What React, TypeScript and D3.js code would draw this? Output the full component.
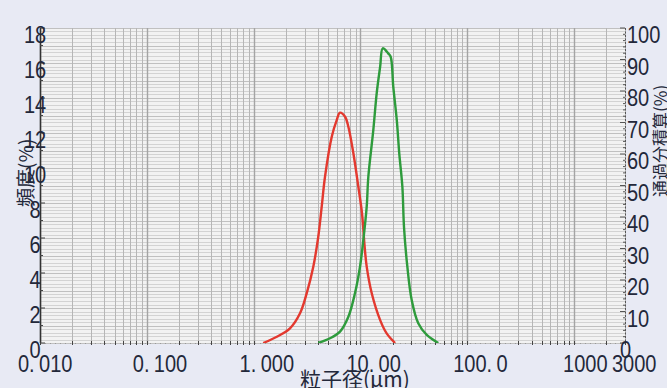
import React from "react";
import * as d3 from "d3";

const W = 667;
const H = 388;

// particle size (µm) and frequency (%) – red sample
const redSize = [1.23, 1.65, 2.19, 2.72, 3.14, 3.62, 4.03, 4.34, 4.66, 5.39, 6.0, 6.44, 7.18, 7.71, 8.59, 9.56, 10.35, 10.92, 11.45, 12.76, 15.3, 17.6, 21.1];
const redFreq = [0, 0.36, 0.84, 1.7, 2.84, 4.36, 6.07, 7.79, 9.5, 11.79, 12.74, 13.16, 12.93, 12.36, 10.84, 8.93, 7.4, 5.6, 4.36, 2.84, 1.31, 0.55, 0];

// green sample
const greenSize = [4.03, 5.19, 6.44, 7.71, 8.89, 9.91, 10.65, 11.45, 11.86, 13.2, 14.2, 15.3, 16.2, 18.2, 19.2, 20.3, 21.9, 23.1, 24.7, 25.6, 27.5, 30.2, 34.8, 41.8, 53.6];
const greenFreq = [0, 0.27, 0.65, 1.5, 2.84, 4.36, 5.89, 7.79, 9.5, 12.17, 14.27, 15.79, 16.84, 16.55, 16.36, 14.65, 12.74, 10.84, 8.93, 6.6, 4.36, 2.46, 1.13, 0.46, 0];

const xTickValues = [0.01, 0.1, 1, 10, 100, 1000, 3000];
const xTickLabels = ["0.010", "0.100", "1.000", "10.00", "100.0", "1000", "3000"];
const yLeftTicks = [0, 2, 4, 6, 8, 10, 12, 14, 16, 18];
const yRightTicks = [0, 10, 20, 30, 40, 50, 60, 70, 80, 90, 100];

const xTitle = "粒子径(μm)";
const yLeftTitle = "頻度(%)";
const yRightTitle = "通過分積算(%)";

const NUM_FONT = "'Liberation Sans', Arial, sans-serif";
const CJK_FONT = "'Noto Sans CJK JP', 'Noto Sans', sans-serif";
const TXT = "#23283a";
const SX = 0.87;

export default function App() {
  const x = d3.scaleLog().domain([0.01, 3000]).range([40, 625]);
  const y = d3.scaleLinear().domain([0, 18]).range([343, 28]);
  const y2 = d3.scaleLinear().domain([0, 100]).range([343, 28]);

  const [x0, x1] = x.range();
  const [yb, yt] = y.range();

  const vGrid: { v: number; major: boolean }[] = [];
  for (let e = -2; e <= 3; e++) {
    for (let m = 1; m <= 9; m++) {
      const v = m * Math.pow(10, e);
      if (v >= 0.01 && v <= 3000) vGrid.push({ v, major: m === 1 });
    }
  }
  const hGrid = d3.range(0, 18.0001, 0.2);

  const line = d3
    .line<[number, number]>()
    .x((d) => x(d[0]))
    .y((d) => y(d[1]))
    .curve(d3.curveCatmullRom.alpha(0.5));

  const redPts = redSize.map((s, i) => [s, redFreq[i]] as [number, number]);
  const greenPts = greenSize.map((s, i) => [s, greenFreq[i]] as [number, number]);

  return (
    <svg
      width={W}
      height={H}
      style={{ position: "absolute", left: 0, top: 0, background: "#e8eaf4" }}
    >
      <rect x={0} y={0} width={W} height={H} fill="#e8eaf4" />
      <defs>
        <clipPath id="plot">
          <rect x={x0} y={yt} width={x1 - x0} height={yb - yt} />
        </clipPath>
      </defs>
      <rect x={x0} y={yt} width={x1 - x0} height={yb - yt} fill="#f2f2f2" />
      {hGrid.map((v, i) => (
        <line
          key={"h" + i}
          x1={x0}
          x2={x1}
          y1={Math.round(y(v)) + 0.5}
          y2={Math.round(y(v)) + 0.5}
          stroke={i % 5 === 0 ? "#c0c0c0" : "#d3d3d3"}
          strokeWidth={1}
        />
      ))}
      {vGrid.map((g, i) => (
        <line
          key={"v" + i}
          x1={Math.round(x(g.v)) + 0.5}
          x2={Math.round(x(g.v)) + 0.5}
          y1={yt}
          y2={yb}
          stroke={g.major ? "#a4a4a4" : "#b6b6b6"}
          strokeWidth={g.major ? 1.4 : 1}
        />
      ))}

      {/* bottom dotted axis */}
      <line x1={x0} x2={x1} y1={yb + 0.5} y2={yb + 0.5} stroke="#9a9a9a" strokeWidth={1} strokeDasharray="1,4" />
      {vGrid.map((g, i) => (
        <line
          key={"bt" + i}
          x1={Math.round(x(g.v)) + 0.5}
          x2={Math.round(x(g.v)) + 0.5}
          y1={yb - 2}
          y2={yb + 2}
          stroke="#444"
          strokeWidth={1}
        />
      ))}

      {/* left axis */}
      <line x1={x0 + 0.5} x2={x0 + 0.5} y1={yt} y2={yb} stroke="#333" strokeWidth={1.5} />
      {d3.range(0, 18.0001, 1).map((v, i) => (
        <line key={"lt" + i} x1={x0} x2={x0 + (v % 2 === 0 ? 5 : 3)} y1={y(v)} y2={y(v)} stroke="#444" strokeWidth={1} />
      ))}
      {/* right axis */}
      <line x1={x1 + 0.5} x2={x1 + 0.5} y1={yt} y2={yb} stroke="#555" strokeWidth={1} strokeDasharray="2,1.5" />
      {d3.range(0, 100.001, 2).map((v, i) => (
        <line key={"rt" + i} x1={x1 - (v % 10 === 0 ? 5 : 2)} x2={x1} y1={y2(v)} y2={y2(v)} stroke="#555" strokeWidth={1} />
      ))}

      {/* curves */}
      <g clipPath="url(#plot)">
        <path d={line(redPts) || ""} fill="none" stroke="#e3392f" strokeWidth={2.4} strokeLinejoin="round" />
        <path d={line(greenPts) || ""} fill="none" stroke="#2e9b3c" strokeWidth={2.4} strokeLinejoin="round" />
      </g>

      {/* left tick labels */}
      {yLeftTicks.map((v) => (
        <text
          key={"yl" + v}
          transform={`translate(35,${y(v) + 15}) scale(${SX},1)`}
          textAnchor="middle"
          fontFamily={NUM_FONT}
          fontSize={23}
          fill={TXT}
        >
          {v}
        </text>
      ))}
      {/* right tick labels */}
      {yRightTicks.map((v) => (
        <text
          key={"yr" + v}
          transform={`translate(${v === 0 ? 620 : 627},${y2(v) + 15}) scale(${SX},1)`}
          textAnchor="start"
          fontFamily={NUM_FONT}
          fontSize={23}
          fill={TXT}
        >
          {v}
        </text>
      ))}
      {/* x tick labels */}
      {xTickValues.map((v, i) => {
        const lab = xTickLabels[i];
        const dot = lab.indexOf(".");
        const off = i === 0 ? -22 : i === 5 ? -11 : i === 6 ? -13 : -14;
        return (
          <text
            key={"xl" + i}
            transform={`translate(${x(v) + off},372) scale(${SX},1)`}
            textAnchor="start"
            fontFamily={NUM_FONT}
            fontSize={23}
            fill={TXT}
          >
            {dot >= 0 ? (
              <>
                <tspan>{lab.slice(0, dot + 1)}</tspan>
                <tspan dx={5}>{lab.slice(dot + 1)}</tspan>
              </>
            ) : (
              lab
            )}
          </text>
        );
      })}

      {/* axis titles */}
      <text x={300} y={387} fontFamily={CJK_FONT} fontSize={21} fill={TXT}>
        {xTitle}
      </text>
      <text
        transform="translate(33,207) rotate(-90)"
        fontFamily={CJK_FONT}
        fontSize={19}
        fill={TXT}
      >
        {yLeftTitle}
      </text>
      <text
        transform="translate(667,197) rotate(-90)"
        fontFamily={CJK_FONT}
        fontSize={17}
        fill={TXT}
      >
        {yRightTitle}
      </text>
    </svg>
  );
}
